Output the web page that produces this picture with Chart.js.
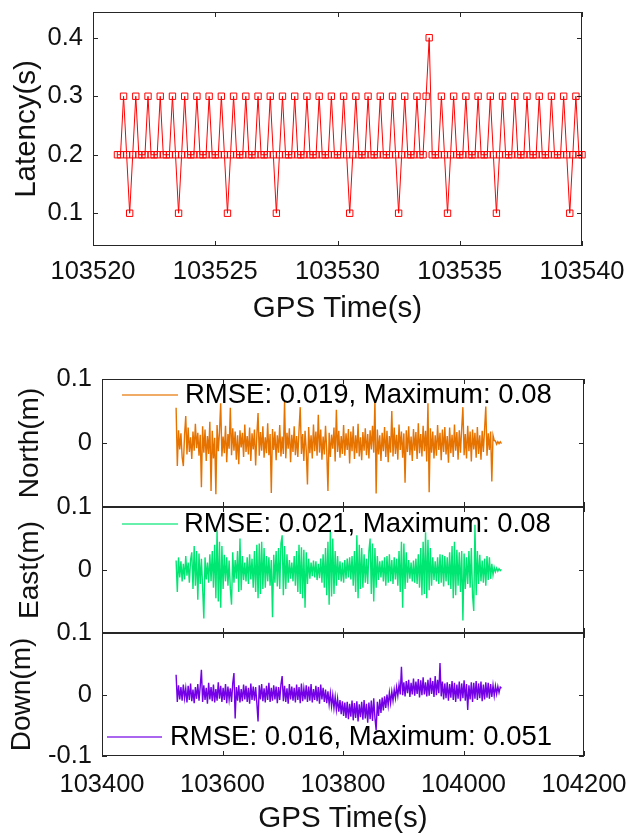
<!DOCTYPE html>
<html>
<head>
<meta charset="utf-8">
<title>Latency and position error</title>
<script src="https://cdn.jsdelivr.net/npm/chart.js@4.4.0/dist/chart.umd.min.js"></script>
<style>
  html, body { margin: 0; padding: 0; background: #fff; }
  #page { position: relative; width: 628px; height: 833px; overflow: hidden; background: #fff; }
  canvas { position: absolute; left: 0; }
</style>
</head>
<body>
<div id="page">
  <canvas id="latencyChart"></canvas>
  <canvas id="northChart"></canvas>
  <canvas id="eastChart"></canvas>
  <canvas id="downChart"></canvas>
</div>
<script>
// Latency log, 8 Hz from 103521 s
const latencyStart = 103521;
const latencyStep = 0.125;
const latency = [
  0.2, 0.2, 0.3, 0.2, 0.1, 0.2, 0.3, 0.2,
  0.2, 0.2, 0.3, 0.2, 0.2, 0.2, 0.3, 0.2,
  0.2, 0.2, 0.3, 0.2, 0.1, 0.2, 0.3, 0.2,
  0.2, 0.2, 0.3, 0.2, 0.2, 0.2, 0.3, 0.2,
  0.2, 0.2, 0.3, 0.2, 0.1, 0.2, 0.3, 0.2,
  0.2, 0.2, 0.3, 0.2, 0.2, 0.2, 0.3, 0.2,
  0.2, 0.2, 0.3, 0.2, 0.1, 0.2, 0.3, 0.2,
  0.2, 0.2, 0.3, 0.2, 0.2, 0.2, 0.3, 0.2,
  0.2, 0.2, 0.3, 0.2, 0.2, 0.2, 0.3, 0.2,
  0.2, 0.2, 0.3, 0.2, 0.1, 0.2, 0.3, 0.2,
  0.2, 0.2, 0.3, 0.2, 0.2, 0.2, 0.3, 0.2,
  0.2, 0.2, 0.3, 0.2, 0.1, 0.2, 0.3, 0.2,
  0.2, 0.2, 0.3, 0.2, 0.2, 0.3, 0.4, 0.2,
  0.2, 0.2, 0.3, 0.2, 0.1, 0.2, 0.3, 0.2,
  0.2, 0.2, 0.3, 0.2, 0.2, 0.2, 0.3, 0.2,
  0.2, 0.2, 0.3, 0.2, 0.1, 0.2, 0.3, 0.2,
  0.2, 0.2, 0.3, 0.2, 0.2, 0.2, 0.3, 0.2,
  0.2, 0.2, 0.3, 0.2, 0.2, 0.2, 0.3, 0.2,
  0.2, 0.2, 0.3, 0.2, 0.1, 0.2, 0.3, 0.2,
  0.2
];
const latencyTimeTicks = [103520, 103525, 103530, 103535, 103540];
const latencyTicks = [0.1, 0.2, 0.3, 0.4];

// Position error in mm, one value every 2 s from 103523 s
const errStart = 103523;
const errStep = 2;
const northErr = [
  55, -36, 20, -10, 15, -22, -36, 12, 42, -18,
  24, -14, 9, -25, 18, -12, 30, -8, 16, -20,
  13, -69, 26, -15, 21, -28, 11, -17, 33, -75,
  19, -24, 8, -80, 28, -13, 17, 62, -21, 10,
  -16, 27, -30, 14, -9, 55, -19, 23, -12, 18,
  -26, 12, -33, 20, -7, 16, -22, 29, -14, 11,
  -18, 24, -28, 15, -10, 21, -35, 13, 47, -20,
  17, -12, 26, -23, 9, -16, 31, -19, 14, -78,
  22, -11, 18, -27, 12, -15, 28, -21, 10, -17,
  65, -24, 16, -9, 23, -30, 13, -14, 26, -19,
  11, -22, 20, 56, -17, 14, -28, 19, -11, -65,
  25, -16, 12, -24, 29, -13, 18, -20, 44, -15,
  21, -26, 10, -18, 27, -12, -75, 16, -22, 13,
  -9, 24, -29, 52, -14, 19, -23, 11, -17, 28,
  -20, 15, -11, 22, -32, 18, -13, 26, -25, 12,
  -16, 30, -21, 9, -27, 17, -12, 23, -19, 14,
  -24, 20, -10, 27, -15, 68, -79, 21, -18, 12,
  -28, 16, -13, 25, -22, 19, -30, 11, -15, 50,
  -21, 24, -17, 13, -26, 29, -11, 18, -23, 15,
  -62, 20, -14, 26, -19, 10, -28, 22, -12, 17,
  -25, 31, -16, 14, -21, 27, -13, 19, -29, 62,
  -77, 23, -15, 18, -24, 12, -20, 28, -11, 16,
  -27, 21, -14, 25, -18, 11, -31, 24, -16, 13,
  -22, 29, -12, 17, -26, 20, -15, 23, 56, -19,
  14, -24, 27, -13, 18, -29, 21, -10, 16, -23,
  25, -17, 12, -26, 19, -14, 22, 57, -20, 15,
  -11, 18, -60, 12, 4, 3, -2, 2, -1, 2,
  -1
];
const eastErr = [
  15, -35, 20, -12, 14, -18, 10, -15, 22, -9,
  12, -20, 16, 28, -30, 38, -25, 30, -47, 26,
  -22, 18, -28, -77, 20, -15, 12, -20, 25, -18,
  30, -28, 40, -45, 64, -50, 45, -60, 38, -30,
  24, -18, 20, -25, 15, -30, -55, 28, -20, 16,
  -14, 30, -35, 50, -32, 22, -16, 12, -18, 20,
  -22, 25, -15, 18, -28, 30, -35, 40, -45, 42,
  -38, 45, -30, 35, -28, 22, -18, 20, -25, 16,
  -75, 24, -20, 30, -26, 35, -30, 42, 55, -40,
  38, -30, 25, -20, 16, -14, 12, -18, 22, -25,
  30, -35, 40, -38, 36, -45, 32, -60, 28, -22,
  18, -14, 12, -10, 15, -12, 14, -16, 10, -13,
  18, -20, 25, -28, 35, -40, 45, -55, 64, -42,
  50, -38, 30, -25, 22, -16, 14, -18, 12, -20,
  16, -14, 18, -12, 20, -15, 22, -25, 30, -35,
  55, -45, 40, -30, 35, -28, 25, -20, 18, -22,
  30, 50, -38, 42, -50, 35, -28, 22, -16, 14,
  -12, 15, -18, 20, -25, 22, -20, 25, -18, 16,
  -22, 20, -15, 18, -25, 30, -35, 45, -60, 42,
  -30, 28, -20, 16, -14, 12, -18, 15, -20, 18,
  -22, 25, -28, 35, -40, 45, -38, 60, -45, 48,
  -32, 35, -25, 20, -16, 14, -18, 20, -22, 25,
  -20, 24, -26, 22, -18, 20, -24, 28, -30, 38,
  -45, 45, -40, 32, -25, 28, -35, 30, -80, 26,
  -30, 20, -22, 30, -28, 35, -40, -65, 72, -40,
  30, -22, 24, -18, 15, -20, 18, -25, 22, -16,
  20, -14, 10, -8, 4, -3, 3, -2, 2, -1,
  1
];
const downErr = [
  32, -12, 15, -8, 12, -10, 16, -6, 10, -13,
  14, -9, 18, -11, 8, -14, 12, -7, 17, -10,
  13, 40, -12, 15, -9, 11, -15, 19, -8, 12,
  -11, 16, -13, 9, -10, 20, -7, 14, -12, 11,
  -9, 17, -14, 13, -8, 10, -12, 18, 35, -39,
  12, -10, 15, -13, 9, -11, 16, -8, 14, -12,
  11, -15, 18, -9, 13, -10, 12, -14, -44, 15,
  -8, 17, -11, 10, -13, 14, -9, 19, -12, 11,
  -10, 15, -8, 13, -14, 12, -9, 16, 30, -11,
  14, -12, 10, -15, 17, -8, 13, -10, 11, -13,
  16, -9, 12, -14, 18, -11, 10, -8, 15, -12,
  13, -10, 17, -13, 9, -9, 14, -11, 12, -15,
  16, -8, 11, -12, 8, -14, 5, -16, 2, -19,
  -1, -22, -4, -25, -7, -28, -9, -32, -11, -35,
  -13, -38, -12, -40, -15, -36, -10, -42, -14, -38,
  -11, -44, -16, -37, -12, -41, -9, -39, -15, -46,
  -13, -40, -10, -43, -6, -38, -58, -12, -35, -8,
  -30, -5, -26, -3, -22, 0, -18, 3, -14, 5,
  -10, 8, -6, 12, -2, 16, 0, 45, -1, 20,
  -3, 22, 2, 24, -4, 19, 0, 26, -2, 21,
  1, 25, -5, 23, -1, 28, 0, 20, -3, 24,
  -2, 27, 1, 22, -4, 30, -1, 24, 2, 51,
  -3, 21, -8, 18, -6, 20, -10, 17, -5, 22,
  -9, 19, -12, 16, -7, 21, -11, 18, -6, 23,
  -10, 17, -25, 15, -8, 20, -12, 19, -7, 22,
  -9, 18, -6, 21, -11, 16, -8, 20, -5, 19,
  -7, 17, -4, 15, -2, 14, 1, 13, 3, 12,
  10
];
const errTimeTicks = [103400, 103600, 103800, 104000, 104200];
const errTicks = [-0.1, 0, 0.1];

const FONT = '"Liberation Sans", Arial, Helvetica, sans-serif';
const INK = '#111';
const CANVAS_W = 700; // wider than the page so edge labels never squeeze the plot
const tickFont = { family: FONT, size: 25.5 };
const titleFont = { family: FONT, size: 29.5 };

function toPoints(start, step, values, scale) {
  return values.map((v, i) => ({ x: start + i * step, y: v * scale }));
}

function fixedTicks(list) {
  return scale => { scale.ticks = list.map(v => ({ value: v })); };
}

// box round the plot area with short inward tick marks on all four sides
const framePlugin = {
  id: 'frame',
  afterDraw(chart) {
    const { ctx, chartArea: a, scales: { x, y } } = chart;
    const len = 5;
    ctx.save();
    ctx.strokeStyle = '#262626';
    ctx.lineWidth = 1;
    ctx.strokeRect(a.left + 0.5, a.top + 0.5, a.width - 1, a.height - 1);
    ctx.beginPath();
    x.ticks.forEach(t => {
      const px = Math.round(x.getPixelForValue(t.value)) + 0.5;
      ctx.moveTo(px, a.bottom); ctx.lineTo(px, a.bottom - len);
      ctx.moveTo(px, a.top); ctx.lineTo(px, a.top + len);
    });
    y.ticks.forEach(t => {
      const py = Math.round(y.getPixelForValue(t.value)) + 0.5;
      ctx.moveTo(a.left, py); ctx.lineTo(a.left + len, py);
      ctx.moveTo(a.right, py); ctx.lineTo(a.right - len, py);
    });
    ctx.stroke();
    ctx.restore();
  }
};

// borderless legend: a short line sample followed by the text
const lineLegend = {
  id: 'lineLegend',
  afterDatasetsDraw(chart, args, o) {
    if (!o || !o.text) return;
    const ctx = chart.ctx;
    ctx.save();
    ctx.strokeStyle = o.color;
    ctx.globalAlpha = 0.8;
    ctx.lineWidth = 1.5;
    ctx.beginPath();
    ctx.moveTo(o.x0, o.y);
    ctx.lineTo(o.x1, o.y);
    ctx.stroke();
    ctx.globalAlpha = 1;
    ctx.fillStyle = '#000';
    ctx.font = '27.5px ' + FONT;
    ctx.textBaseline = 'middle';
    ctx.textAlign = 'left';
    ctx.fillText(o.text, o.tx, o.y);
    ctx.restore();
  }
};

// Latency chart
(function () {
  const area = { top: 12, bottom: 246, left: 93, right: 582 };
  const padTop = 30;
  const axisH = 332 - area.bottom;
  const canvas = document.getElementById('latencyChart');
  canvas.width = CANVAS_W;
  canvas.height = padTop + (area.bottom - area.top) + axisH;
  canvas.style.top = (area.top - padTop) + 'px';

  new Chart(canvas, {
    type: 'line',
    data: {
      datasets: [{
        data: toPoints(latencyStart, latencyStep, latency, 1),
        borderColor: '#ff0000',
        borderWidth: 1,
        pointStyle: 'rect',
        pointRadius: 4.5,
        pointBorderWidth: 1,
        pointBorderColor: '#ff0000',
        pointBackgroundColor: 'rgba(0,0,0,0)',
        tension: 0,
        clip: false
      }]
    },
    options: {
      responsive: false,
      animation: false,
      events: [],
      layout: { padding: { top: padTop, right: CANVAS_W - area.right, left: 0, bottom: 0 } },
      plugins: { legend: { display: false }, tooltip: { enabled: false } },
      scales: {
        x: {
          type: 'linear',
          min: 103520,
          max: 103540,
          afterBuildTicks: fixedTicks(latencyTimeTicks),
          afterFit: s => { s.height = axisH; },
          grid: { display: false, drawTicks: false },
          border: { display: false },
          ticks: { autoSkip: false, maxRotation: 0, padding: 11, font: tickFont, color: INK, callback: v => String(v) },
          title: { display: true, text: 'GPS Time(s)', font: titleFont, color: INK, padding: { top: 0, bottom: 5 } }
        },
        y: {
          type: 'linear',
          min: 0.044,
          max: 0.444,
          afterBuildTicks: fixedTicks(latencyTicks),
          afterFit: s => { s.width = area.left; },
          grid: { display: false, drawTicks: false },
          border: { display: false },
          ticks: { padding: 10, font: tickFont, color: INK, callback: v => String(v) },
          title: { display: true, text: 'Latency(s)', font: titleFont, color: INK, padding: { top: 9, bottom: 0 } }
        }
      }
    },
    plugins: [framePlugin]
  });
})();

// Position error panels share the time axis 103400 - 104200
function errorPanel(id, values, color, area, cfg) {
  const padTop = 30;
  const axisH = cfg.showTime ? 837 - area.bottom : 30;
  const canvas = document.getElementById(id);
  const top = area.top - padTop;
  canvas.width = CANVAS_W;
  canvas.height = padTop + (area.bottom - area.top) + axisH;
  canvas.style.top = top + 'px';

  new Chart(canvas, {
    type: 'line',
    data: {
      datasets: [{
        data: toPoints(errStart, errStep, values, 0.001),
        borderColor: color,
        borderWidth: 1.4,
        pointRadius: 0,
        tension: 0
      }]
    },
    options: {
      responsive: false,
      animation: false,
      events: [],
      layout: { padding: { top: padTop, right: CANVAS_W - 584, left: 0, bottom: 0 } },
      plugins: {
        legend: { display: false },
        tooltip: { enabled: false },
        lineLegend: {
          text: cfg.legend,
          color: color,
          x0: cfg.legendX[0],
          x1: cfg.legendX[1],
          tx: cfg.legendX[2],
          y: cfg.legendY - top
        }
      },
      scales: {
        x: {
          type: 'linear',
          min: 103400,
          max: 104200,
          afterBuildTicks: fixedTicks(errTimeTicks),
          afterFit: s => { s.height = axisH; },
          grid: { display: false, drawTicks: false },
          border: { display: false },
          ticks: { display: cfg.showTime, autoSkip: false, maxRotation: 0, padding: 14, font: tickFont, color: INK, callback: v => String(v) },
          title: { display: cfg.showTime, text: 'GPS Time(s)', font: titleFont, color: INK, padding: { top: 0, bottom: 0 } }
        },
        y: {
          type: 'linear',
          min: -0.1,
          max: 0.1,
          afterBuildTicks: fixedTicks(errTicks),
          afterFit: s => { s.width = 102; },
          grid: { display: false, drawTicks: false },
          border: { display: false },
          ticks: {
            padding: 10,
            font: tickFont,
            color: INK,
            callback: v => (v < 0 && !cfg.showTime) ? '' : String(v)
          },
          title: { display: true, text: cfg.label, font: { family: FONT, size: 28 }, color: INK, padding: { top: cfg.titlePad, bottom: 0 } }
        }
      }
    },
    plugins: [framePlugin, lineLegend]
  });
}

errorPanel('northChart', northErr, '#e67300', { top: 379, bottom: 507 }, {
  label: 'North(m)', titlePad: 13, showTime: false,
  legend: 'RMSE: 0.019, Maximum: 0.08', legendX: [122, 178, 185], legendY: 395
});
errorPanel('eastChart', eastErr, '#00e673', { top: 507, bottom: 633 }, {
  label: 'East(m)', titlePad: 13, showTime: false,
  legend: 'RMSE: 0.021, Maximum: 0.08', legendX: [122, 178, 184], legendY: 524
});
errorPanel('downChart', downErr, '#7300e6', { top: 633, bottom: 756 }, {
  label: 'Down(m)', titlePad: 5, showTime: true,
  legend: 'RMSE: 0.016, Maximum: 0.051', legendX: [107, 162, 170], legendY: 737
});
</script>
</body>
</html>
